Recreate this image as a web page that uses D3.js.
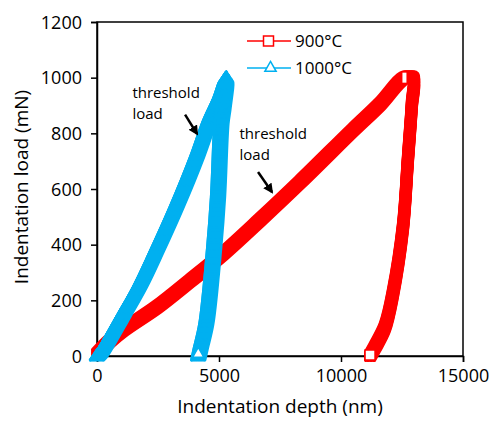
<!DOCTYPE html>
<html><head><meta charset="utf-8">
<script src="https://cdn.jsdelivr.net/npm/d3@7"></script>
<style>body{margin:0;background:#fff}svg{display:block}text{font-family:"Open Sans",Lato,sans-serif;fill:#000}</style>
</head><body>
<script>
const xTicks = [0, 5000, 10000, 15000];
const yTicks = [0, 200, 400, 600, 800, 1000, 1200];
const seriesNames = ["900°C", "1000°C"];
const seriesColors = ["#ff0000", "#00b0f0"];
// 900°C: loading then unloading (depth nm, load mN)
const depth900 = [0, 530, 1070, 2460, 3810, 5160, 6680, 8320, 10490, 11600, 12600, 12950, 12900, 12740, 12540, 12130, 11800, 11390, 11190];
const load900  = [7, 54, 93, 176, 270, 367, 489, 625, 812, 905, 1000, 1000, 900, 704, 464, 226, 104, 32, 0];
// 1000°C
const depth1000 = [0, 120, 1070, 1760, 2400, 3270, 4100, 4630, 5050, 5300, 5180, 5100, 4960, 4800, 4480, 4250, 4150];
const load1000  = [0, 11, 154, 262, 380, 550, 729, 859, 940, 1000, 900, 848, 585, 400, 129, 40, 0];
const annotations = [
  {lines: ["threshold", "load"], tx: 1450, ty: 927, ax: [3610, 867], ah: [4100, 798]},
  {lines: ["threshold", "load"], tx: 5840, ty: 780, ax: [6600, 661], ah: [7170, 589]}
];

const W = 490, H = 421;
const svg = d3.select("body").append("svg").attr("width", W).attr("height", H);
const x = d3.scaleLinear().domain([0, 15000]).range([97, 463]);
const y = d3.scaleLinear().domain([0, 1200]).range([356, 22]);

// frame
svg.append("rect").attr("x", 97).attr("y", 22).attr("width", 366).attr("height", 334)
  .attr("fill", "none").attr("stroke", "#000").attr("stroke-width", 1.5);

const xa = svg.append("g").attr("transform", "translate(0,356)")
  .call(d3.axisBottom(x).tickValues(xTicks).tickSize(6).tickPadding(7).tickFormat(d3.format("d")));
const ya = svg.append("g").attr("transform", "translate(97,0)")
  .call(d3.axisLeft(y).tickValues(yTicks).tickSize(6).tickPadding(9).tickFormat(d3.format("d")));
[xa, ya].forEach(a => {
  a.select(".domain").attr("stroke", "#000").attr("stroke-width", 1.5);
  a.selectAll(".tick line").attr("stroke", "#000").attr("stroke-width", 1.5);
  a.selectAll("text").attr("font-size", 18).attr("font-family", "'Open Sans',Lato,sans-serif").attr("fill", "#000");
});
ya.selectAll("text").attr("dy", "0.35em");

const line = d3.line().x(d => x(d[0])).y(d => y(d[1])).curve(d3.curveCatmullRom.alpha(0.5));
const d900 = depth900.map((d, i) => [d, load900[i]]);
const d1000 = depth1000.map((d, i) => [d, load1000[i]]);

// brushes emulating dense marker traces
const sq = [];
for (let dx = -4.5; dx <= 4.51; dx += 1.5) for (let dy = -4.5; dy <= 4.51; dy += 1.5) sq.push([dx, dy]);
const tr = [];
for (let dy = -6; dy <= 4.51; dy += 1.25) {
  const hw = 7 * (dy + 6) / 10.5;
  for (let dx = -hw; dx <= hw + 0.01; dx += 1.25) tr.push([dx, dy]);
  tr.push([hw, dy]); tr.push([-hw, dy]);
}
function brush(data, offs, color) {
  const g = svg.append("g");
  const dstr = line(data);
  offs.forEach(([dx, dy]) => g.append("path").attr("d", dstr).attr("transform", `translate(${dx},${dy})`)
    .attr("fill", "none").attr("stroke", color).attr("stroke-width", 3).attr("stroke-linejoin", "round").attr("stroke-linecap", "round"));
}
brush(d900, sq, seriesColors[0]);
brush(d1000, tr, seriesColors[1]);

// end markers
const last900 = d900[d900.length - 1];
svg.append("rect").attr("x", x(last900[0]) - 5).attr("y", y(last900[1]) - 6).attr("width", 10).attr("height", 10)
  .attr("fill", "#fff").attr("stroke", seriesColors[0]).attr("stroke-width", 1.5);
svg.append("rect").attr("x", x(d900[10][0]) - 2).attr("y", y(d900[10][1]) - 5).attr("width", 4).attr("height", 10).attr("fill", "#fff");
const last1000 = d1000[d1000.length - 1];
const tri = d3.symbol().type(d3.symbolTriangle).size(55);
svg.append("path").attr("d", tri()).attr("transform", `translate(${x(last1000[0])},${y(last1000[1]) - 2})`)
  .attr("fill", "#fff").attr("stroke", seriesColors[1]).attr("stroke-width", 1.5);

// legend
const lg = svg.append("g");
seriesNames.forEach((n, i) => {
  const ly = 41 + i * 27;
  lg.append("line").attr("x1", 247).attr("x2", 291).attr("y1", ly).attr("y2", ly)
    .attr("stroke", seriesColors[i]).attr("stroke-width", 1.5);
  if (i === 0) {
    lg.append("rect").attr("x", 263.5).attr("y", ly - 5).attr("width", 10).attr("height", 10)
      .attr("fill", "#fff").attr("stroke", seriesColors[i]).attr("stroke-width", 1.5);
  } else {
    lg.append("path").attr("d", tri()).attr("transform", `translate(270.5,${ly})`)
      .attr("fill", "#fff").attr("stroke", seriesColors[i]).attr("stroke-width", 1.5);
  }
  lg.append("text").attr("x", 295).attr("y", ly).attr("dy", "0.35em").attr("font-size", 17).text(n);
});

// annotations
svg.append("defs").append("marker").attr("id", "ah").attr("viewBox", "0 0 10 10").attr("refX", 8).attr("refY", 5)
  .attr("markerWidth", 4).attr("markerHeight", 4).attr("orient", "auto")
  .append("path").attr("d", "M0,0L10,5L0,10z").attr("fill", "#000");
annotations.forEach(a => {
  const t = svg.append("text").attr("x", x(a.tx)).attr("y", y(a.ty)).attr("font-size", 15);
  a.lines.forEach((l, j) => t.append("tspan").attr("x", x(a.tx)).attr("dy", j === 0 ? 0 : 21).text(l));
  svg.append("line").attr("x1", x(a.ax[0])).attr("y1", y(a.ax[1])).attr("x2", x(a.ah[0])).attr("y2", y(a.ah[1]))
    .attr("stroke", "#000").attr("stroke-width", 2.5).attr("marker-end", "url(#ah)");
});

// axis titles
svg.append("text").attr("x", 280).attr("y", 413).attr("text-anchor", "middle").attr("font-size", 19).text("Indentation depth (nm)");
svg.append("text").attr("transform", "translate(28,187) rotate(-90)").attr("text-anchor", "middle").attr("font-size", 19).text("Indentation load (mN)");
</script>
</body></html>
